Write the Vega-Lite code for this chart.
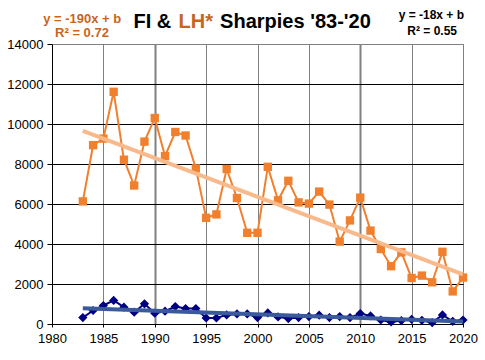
{
  "$schema": "https://vega.github.io/schema/vega-lite/v6.json",
  "width": 411,
  "height": 280,
  "autosize": "none",
  "padding": {"left": 52, "top": 44, "right": 22, "bottom": 36},
  "background": "white",
  "config": {
    "view": {"stroke": "#808080", "strokeWidth": 1},
    "font": "Liberation Sans",
    "axis": {"labelFontSize": 13, "labelColor": "black", "labelFont": "Liberation Sans", "domainColor": "black", "tickColor": "black", "grid": true, "gridOpacity": 1, "labelFlush": false, "labelOverlap": false},
    "axisX": {"tickSize": 3, "labelPadding": 5, "gridColor": "#808080"},
    "axisY": {"tickSize": 5, "labelPadding": 4, "gridColor": "black"}
  },
  "datasets": {
    "lh": [
      {"year": 1983, "value": 6130}, {"year": 1984, "value": 8940}, {"year": 1985, "value": 9270},
      {"year": 1986, "value": 11610}, {"year": 1987, "value": 8215}, {"year": 1988, "value": 6925},
      {"year": 1989, "value": 9120}, {"year": 1990, "value": 10300}, {"year": 1991, "value": 8390},
      {"year": 1992, "value": 9600}, {"year": 1993, "value": 9425}, {"year": 1994, "value": 7780},
      {"year": 1995, "value": 5310}, {"year": 1996, "value": 5480}, {"year": 1997, "value": 7750},
      {"year": 1998, "value": 6300}, {"year": 1999, "value": 4560}, {"year": 2000, "value": 4560},
      {"year": 2001, "value": 7860}, {"year": 2002, "value": 6185}, {"year": 2003, "value": 7160},
      {"year": 2004, "value": 6080}, {"year": 2005, "value": 6020}, {"year": 2006, "value": 6620},
      {"year": 2007, "value": 5970}, {"year": 2008, "value": 4120}, {"year": 2009, "value": 5180},
      {"year": 2010, "value": 6320}, {"year": 2011, "value": 4670}, {"year": 2012, "value": 3750},
      {"year": 2013, "value": 2890}, {"year": 2014, "value": 3580}, {"year": 2015, "value": 2300},
      {"year": 2016, "value": 2420}, {"year": 2017, "value": 2085}, {"year": 2018, "value": 3610},
      {"year": 2019, "value": 1630}, {"year": 2020, "value": 2320}
    ],
    "fi": [
      {"year": 1983, "value": 320}, {"year": 1984, "value": 675}, {"year": 1985, "value": 925},
      {"year": 1986, "value": 1180}, {"year": 1987, "value": 840}, {"year": 1988, "value": 590},
      {"year": 1989, "value": 1010}, {"year": 1990, "value": 540}, {"year": 1991, "value": 640},
      {"year": 1992, "value": 875}, {"year": 1993, "value": 775}, {"year": 1994, "value": 775},
      {"year": 1995, "value": 300}, {"year": 1996, "value": 300}, {"year": 1997, "value": 455},
      {"year": 1998, "value": 505}, {"year": 1999, "value": 505}, {"year": 2000, "value": 320},
      {"year": 2001, "value": 555}, {"year": 2002, "value": 355}, {"year": 2003, "value": 270},
      {"year": 2004, "value": 320}, {"year": 2005, "value": 370}, {"year": 2006, "value": 440},
      {"year": 2007, "value": 320}, {"year": 2008, "value": 370}, {"year": 2009, "value": 320},
      {"year": 2010, "value": 520}, {"year": 2011, "value": 405}, {"year": 2012, "value": 200},
      {"year": 2013, "value": 100}, {"year": 2014, "value": 170}, {"year": 2015, "value": 235},
      {"year": 2016, "value": 185}, {"year": 2017, "value": 70}, {"year": 2018, "value": 455},
      {"year": 2019, "value": 135}, {"year": 2020, "value": 200}
    ],
    "notes": [
      {"label": "FI &", "role": "t1"},
      {"label": "LH*", "role": "t2"},
      {"label": "Sharpies '83-'20", "role": "t3"},
      {"label": "y = -190x + b", "role": "a1"},
      {"label": "R² = 0.72", "role": "a2"},
      {"label": "y = -18x + b", "role": "b1"},
      {"label": "R² = 0.55", "role": "b2"}
    ]
  },
  "layer": [
    {
      "data": {"name": "lh"},
      "encoding": {
        "x": {"field": "year", "type": "quantitative", "scale": {"domain": [1980, 2020], "nice": false, "zero": false},
          "axis": {"title": null, "values": [1980, 1985, 1990, 1995, 2000, 2005, 2010, 2015, 2020], "format": "d", "gridWidth": {"condition": {"test": "datum.value == 1990 || datum.value == 2010", "value": 2}, "value": 1}}},
        "y": {"field": "value", "type": "quantitative", "scale": {"domain": [0, 14000], "nice": false},
          "axis": {"title": null, "values": [0, 2000, 4000, 6000, 8000, 10000, 12000, 14000], "format": "d", "gridColor": {"condition": {"test": "datum.value == 14000", "value": "#808080"}, "value": "black"}}}
      },
      "layer": [
        {"mark": {"type": "line", "color": "#F0802E", "strokeWidth": 2}},
        {"mark": {"type": "point", "shape": "square", "filled": true, "opacity": 1, "color": "#F0802E", "size": 70}},
        {
          "transform": [{"regression": "value", "on": "year", "extent": [1983, 2020]}],
          "mark": {"type": "line", "color": "#F8B98B", "strokeWidth": 4}
        }
      ]
    },
    {
      "data": {"name": "fi"},
      "encoding": {
        "x": {"field": "year", "type": "quantitative", "scale": {"domain": [1980, 2020], "nice": false, "zero": false},
          "axis": {"title": null, "values": [1980, 1985, 1990, 1995, 2000, 2005, 2010, 2015, 2020], "format": "d", "gridWidth": {"condition": {"test": "datum.value == 1990 || datum.value == 2010", "value": 2}, "value": 1}}},
        "y": {"field": "value", "type": "quantitative", "scale": {"domain": [0, 14000], "nice": false},
          "axis": {"title": null, "values": [0, 2000, 4000, 6000, 8000, 10000, 12000, 14000], "format": "d", "gridColor": {"condition": {"test": "datum.value == 14000", "value": "#808080"}, "value": "black"}}}
      },
      "layer": [
        {"mark": {"type": "line", "color": "#000080", "strokeWidth": 2}},
        {"mark": {"type": "point", "shape": "diamond", "filled": true, "opacity": 1, "color": "#000080", "size": 85}},
        {
          "transform": [{"regression": "value", "on": "year", "extent": [1983, 2020]}],
          "mark": {"type": "line", "color": "#3A5A9C", "strokeWidth": 4}
        }
      ]
    },
    {
      "data": {"name": "notes"},
      "transform": [{"filter": "datum.role == 't1'"}],
      "mark": {"type": "text", "fontSize": 20, "fontWeight": "bold", "align": "left", "baseline": "alphabetic", "color": "black", "font": "Liberation Sans"},
      "encoding": {"text": {"field": "label"},
        "x": {"datum": 1987.93, "type": "quantitative", "scale": {"domain": [1980, 2020], "nice": false, "zero": false},
          "axis": {"title": null, "values": [1980, 1985, 1990, 1995, 2000, 2005, 2010, 2015, 2020], "format": "d", "gridWidth": {"condition": {"test": "datum.value == 1990 || datum.value == 2010", "value": 2}, "value": 1}}},
        "y": {"datum": 14796, "type": "quantitative", "scale": {"domain": [0, 14000], "nice": false},
          "axis": {"title": null, "values": [0, 2000, 4000, 6000, 8000, 10000, 12000, 14000], "format": "d", "gridColor": {"condition": {"test": "datum.value == 14000", "value": "#808080"}, "value": "black"}}}}
    },
    {
      "data": {"name": "notes"},
      "transform": [{"filter": "datum.role == 't2'"}],
      "mark": {"type": "text", "fontSize": 20, "fontWeight": "bold", "align": "left", "baseline": "alphabetic", "color": "#C8651E", "font": "Liberation Sans"},
      "encoding": {"text": {"field": "label"},
        "x": {"datum": 1992.31, "type": "quantitative", "scale": {"domain": [1980, 2020], "nice": false, "zero": false},
          "axis": {"title": null, "values": [1980, 1985, 1990, 1995, 2000, 2005, 2010, 2015, 2020], "format": "d", "gridWidth": {"condition": {"test": "datum.value == 1990 || datum.value == 2010", "value": 2}, "value": 1}}},
        "y": {"datum": 14796, "type": "quantitative", "scale": {"domain": [0, 14000], "nice": false},
          "axis": {"title": null, "values": [0, 2000, 4000, 6000, 8000, 10000, 12000, 14000], "format": "d", "gridColor": {"condition": {"test": "datum.value == 14000", "value": "#808080"}, "value": "black"}}}}
    },
    {
      "data": {"name": "notes"},
      "transform": [{"filter": "datum.role == 't3'"}],
      "mark": {"type": "text", "fontSize": 20, "fontWeight": "bold", "align": "left", "baseline": "alphabetic", "color": "black", "font": "Liberation Sans"},
      "encoding": {"text": {"field": "label"},
        "x": {"datum": 1996.36, "type": "quantitative", "scale": {"domain": [1980, 2020], "nice": false, "zero": false},
          "axis": {"title": null, "values": [1980, 1985, 1990, 1995, 2000, 2005, 2010, 2015, 2020], "format": "d", "gridWidth": {"condition": {"test": "datum.value == 1990 || datum.value == 2010", "value": 2}, "value": 1}}},
        "y": {"datum": 14796, "type": "quantitative", "scale": {"domain": [0, 14000], "nice": false},
          "axis": {"title": null, "values": [0, 2000, 4000, 6000, 8000, 10000, 12000, 14000], "format": "d", "gridColor": {"condition": {"test": "datum.value == 14000", "value": "#808080"}, "value": "black"}}}}
    },
    {
      "data": {"name": "notes"},
      "transform": [{"filter": "datum.role == 'a1'"}],
      "mark": {"type": "text", "fontSize": 13, "fontWeight": "bold", "align": "center", "baseline": "alphabetic", "color": "#C8651E", "font": "Liberation Sans"},
      "encoding": {"text": {"field": "label"},
        "x": {"datum": 1982.94, "type": "quantitative", "scale": {"domain": [1980, 2020], "nice": false, "zero": false},
          "axis": {"title": null, "values": [1980, 1985, 1990, 1995, 2000, 2005, 2010, 2015, 2020], "format": "d", "gridWidth": {"condition": {"test": "datum.value == 1990 || datum.value == 2010", "value": 2}, "value": 1}}},
        "y": {"datum": 15063, "type": "quantitative", "scale": {"domain": [0, 14000], "nice": false},
          "axis": {"title": null, "values": [0, 2000, 4000, 6000, 8000, 10000, 12000, 14000], "format": "d", "gridColor": {"condition": {"test": "datum.value == 14000", "value": "#808080"}, "value": "black"}}}}
    },
    {
      "data": {"name": "notes"},
      "transform": [{"filter": "datum.role == 'a2'"}],
      "mark": {"type": "text", "fontSize": 13, "fontWeight": "bold", "align": "center", "baseline": "alphabetic", "color": "#C8651E", "font": "Liberation Sans"},
      "encoding": {"text": {"field": "label"},
        "x": {"datum": 1982.92, "type": "quantitative", "scale": {"domain": [1980, 2020], "nice": false, "zero": false},
          "axis": {"title": null, "values": [1980, 1985, 1990, 1995, 2000, 2005, 2010, 2015, 2020], "format": "d", "gridWidth": {"condition": {"test": "datum.value == 1990 || datum.value == 2010", "value": 2}, "value": 1}}},
        "y": {"datum": 14343, "type": "quantitative", "scale": {"domain": [0, 14000], "nice": false},
          "axis": {"title": null, "values": [0, 2000, 4000, 6000, 8000, 10000, 12000, 14000], "format": "d", "gridColor": {"condition": {"test": "datum.value == 14000", "value": "#808080"}, "value": "black"}}}}
    },
    {
      "data": {"name": "notes"},
      "transform": [{"filter": "datum.role == 'b1'"}],
      "mark": {"type": "text", "fontSize": 12, "fontWeight": "bold", "align": "center", "baseline": "alphabetic", "color": "black", "font": "Liberation Sans"},
      "encoding": {"text": {"field": "label"},
        "x": {"datum": 2016.92, "type": "quantitative", "scale": {"domain": [1980, 2020], "nice": false, "zero": false},
          "axis": {"title": null, "values": [1980, 1985, 1990, 1995, 2000, 2005, 2010, 2015, 2020], "format": "d", "gridWidth": {"condition": {"test": "datum.value == 1990 || datum.value == 2010", "value": 2}, "value": 1}}},
        "y": {"datum": 15230, "type": "quantitative", "scale": {"domain": [0, 14000], "nice": false},
          "axis": {"title": null, "values": [0, 2000, 4000, 6000, 8000, 10000, 12000, 14000], "format": "d", "gridColor": {"condition": {"test": "datum.value == 14000", "value": "#808080"}, "value": "black"}}}}
    },
    {
      "data": {"name": "notes"},
      "transform": [{"filter": "datum.role == 'b2'"}],
      "mark": {"type": "text", "fontSize": 12, "fontWeight": "bold", "align": "center", "baseline": "alphabetic", "color": "black", "font": "Liberation Sans"},
      "encoding": {"text": {"field": "label"},
        "x": {"datum": 2017.0, "type": "quantitative", "scale": {"domain": [1980, 2020], "nice": false, "zero": false},
          "axis": {"title": null, "values": [1980, 1985, 1990, 1995, 2000, 2005, 2010, 2015, 2020], "format": "d", "gridWidth": {"condition": {"test": "datum.value == 1990 || datum.value == 2010", "value": 2}, "value": 1}}},
        "y": {"datum": 14473, "type": "quantitative", "scale": {"domain": [0, 14000], "nice": false},
          "axis": {"title": null, "values": [0, 2000, 4000, 6000, 8000, 10000, 12000, 14000], "format": "d", "gridColor": {"condition": {"test": "datum.value == 14000", "value": "#808080"}, "value": "black"}}}}
    }
  ]
}
